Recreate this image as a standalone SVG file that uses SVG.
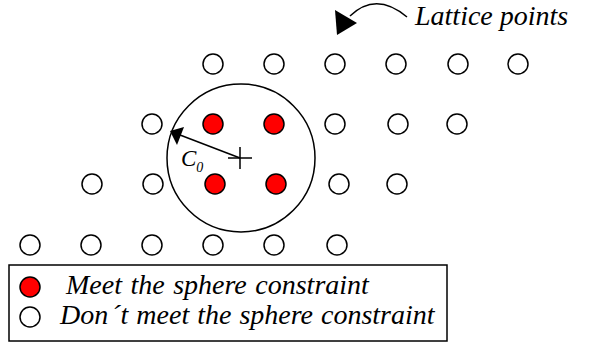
<svg xmlns="http://www.w3.org/2000/svg" width="589" height="349" viewBox="0 0 589 349">
<style>
.pt{fill:#fff;stroke:#000;stroke-width:1.5}
.in{fill:#f00;stroke:#000;stroke-width:1.5}
.ln{fill:none;stroke:#000;stroke-width:1.5}
.t{font-family:"Liberation Serif","Times New Roman",serif;font-style:italic;fill:#000}
</style>
<rect width="589" height="349" fill="#fff"/>
<g id="lattice">
<circle class="pt" cx="213" cy="64" r="10"/>
<circle class="pt" cx="274" cy="64" r="10"/>
<circle class="pt" cx="335" cy="64" r="10"/>
<circle class="pt" cx="396" cy="64" r="10"/>
<circle class="pt" cx="458" cy="64" r="10"/>
<circle class="pt" cx="518" cy="64" r="10"/>
<circle class="pt" cx="152" cy="124" r="10"/>
<circle class="in" cx="213" cy="124" r="10"/>
<circle class="in" cx="274" cy="124" r="10"/>
<circle class="pt" cx="335" cy="124" r="10"/>
<circle class="pt" cx="398" cy="124" r="10"/>
<circle class="pt" cx="457" cy="124" r="10"/>
<circle class="pt" cx="92" cy="184" r="10"/>
<circle class="pt" cx="153" cy="184" r="10"/>
<circle class="in" cx="215" cy="184" r="10"/>
<circle class="in" cx="276" cy="184" r="10"/>
<circle class="pt" cx="339" cy="184" r="10"/>
<circle class="pt" cx="397" cy="184" r="10"/>
<circle class="pt" cx="30" cy="245" r="10"/>
<circle class="pt" cx="91" cy="245" r="10"/>
<circle class="pt" cx="152" cy="245" r="10"/>
<circle class="pt" cx="213" cy="245" r="10"/>
<circle class="pt" cx="274" cy="245" r="10"/>
<circle class="pt" cx="337" cy="245" r="10"/>
</g>
<g id="sphere">
<circle class="ln" cx="241" cy="158" r="74"/>
<path class="ln" d="M228,158H252M240,147V169"/>
</g>
<g id="connectors">
<path class="ln" d="M240,158L180,135"/>
<polygon points="170,131 184,127 177,145" fill="#000"/>
<path class="ln" d="M407,17Q376,-9 350,16"/>
<polygon points="337,35 335,10 357,23" fill="#000"/>
</g>
<g id="labels">
<text class="t" x="181" y="166" font-size="23">C<tspan font-size="14" dy="6">0</tspan></text>
<text class="t" x="415" y="25" font-size="28">Lattice points</text>
</g>
<g id="legend">
<rect class="ln" x="9" y="265" width="438" height="76"/>
<circle class="in" cx="30" cy="287" r="10"/>
<circle class="pt" cx="30" cy="317" r="10"/>
<text class="t" x="66" y="294" font-size="28" word-spacing="1.5">Meet the sphere constraint</text>
<text class="t" x="60" y="324" font-size="28" word-spacing="1">Don<tspan dx="3">´</tspan>t meet the sphere constraint</text>
</g>
</svg>
